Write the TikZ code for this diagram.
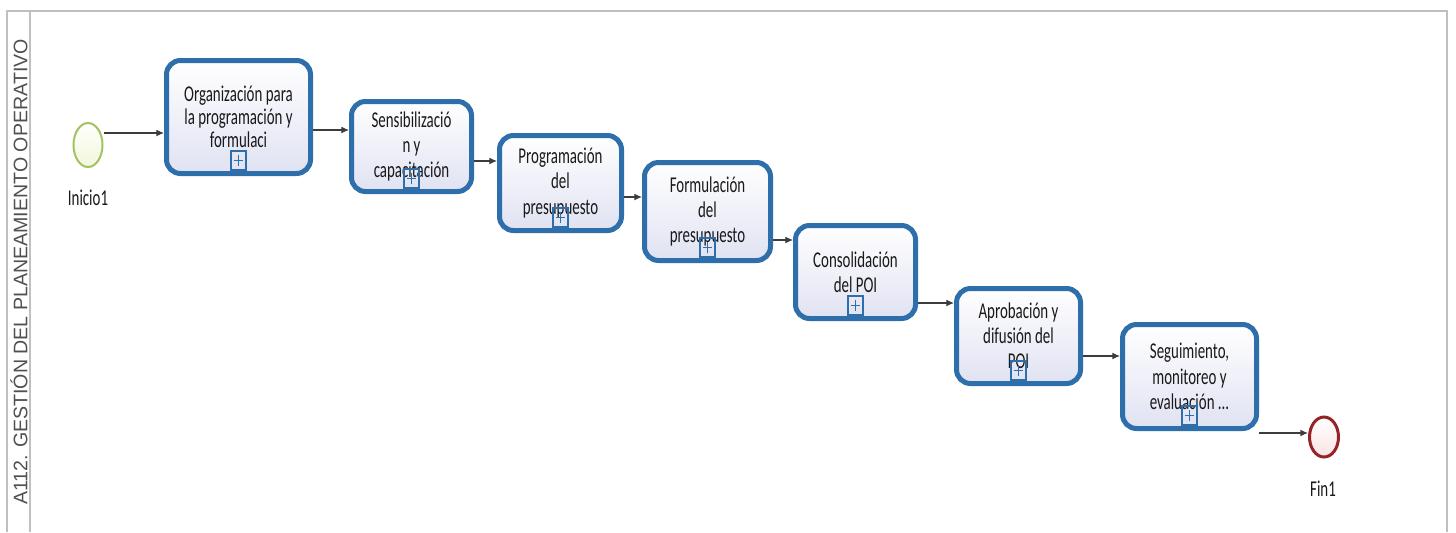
\documentclass[tikz,border=0pt]{standalone}
\usepackage{fontspec}
\setmainfont[FakeStretch=0.66]{Carlito}
\newfontfamily\lanefont{Liberation Sans}
\usetikzlibrary{arrows.meta,shapes.geometric}

\definecolor{taskblue}{RGB}{46,110,170}
\definecolor{tasklav}{RGB}{224,226,242}
\definecolor{framegray}{RGB}{192,192,192}
\definecolor{startfill}{RGB}{242,247,216}
\definecolor{startline}{RGB}{160,196,100}
\definecolor{endfill}{RGB}{250,228,228}
\definecolor{endline}{RGB}{150,35,40}
\definecolor{txt}{RGB}{25,25,25}
\definecolor{flowgray}{RGB}{60,60,60}
\definecolor{lanetxt}{RGB}{80,80,80}

\begin{document}
\begin{tikzpicture}[x=0.5pt,y=-0.5pt,
  task/.style={draw=taskblue, line width=2.5pt, rounded corners=7pt,
    top color=white, bottom color=tasklav, align=center, inner sep=0pt,
    font=\fontsize{11.3}{12.6}\selectfont, text=txt},
  plusmark/.style={draw=taskblue, line width=0.8pt, minimum width=7.5pt,
    minimum height=9.5pt, inner sep=0pt, anchor=south,
    path picture={
      \draw[taskblue, line width=0.9pt]
        ([yshift=-1.8pt]path picture bounding box.north) --
        ([yshift=1.8pt]path picture bounding box.south);
      \draw[taskblue, line width=0.9pt]
        ([xshift=1.3pt]path picture bounding box.west) --
        ([xshift=-1.3pt]path picture bounding box.east);}},
  flow/.style={draw=flowgray, line width=0.55pt,
    -{Latex[length=3.8pt,width=3.4pt]}},
  evlabel/.style={font=\fontsize{11.3}{12}\selectfont, text=txt},
  frameline/.style={draw=framegray, line width=1pt}]

\useasboundingbox (0,0) rectangle (1456,532);

% pool frame and lane header
\draw[frameline] (7,532) -- (7,11) -- (1447,11) -- (1447,532);
\draw[frameline] (30,11) -- (30,532);
\node[rotate=90, font=\lanefont\fontsize{9.8}{9.8}\selectfont, text=lanetxt]
  (lane) at (19,272) {A112. GESTIÓN DEL PLANEAMIENTO OPERATIVO};

% events
\node[ellipse, draw=startline, line width=1pt, top color=white, bottom color=startfill,
  minimum width=14.5pt, minimum height=22pt, inner sep=0pt] (start) at (88,145) {};
\node[evlabel] (startlbl) at (88,198) {Inicio1};
\node[ellipse, draw=endline, line width=1.5pt, top color=white, bottom color=endfill,
  minimum width=14.5pt, minimum height=20pt, inner sep=0pt] (end) at (1324,437) {};
\node[evlabel] (endlbl) at (1323,489) {Fin1};

% collapsed sub-processes
\node[task, font=\fontsize{11.3}{11.4}\selectfont, minimum width=72pt, minimum height=56.5pt]
  (b1) at (238.5,117) {Organización para\\la programación y\\formulaci};
\node[task, minimum width=60pt, minimum height=45pt] (b2) at (411.5,146.5)
  {Sensibilizació\\n y\\capacitación};
\node[task, minimum width=61pt, minimum height=47.5pt] (b3) at (560.5,183)
  {Programación\\del\\presupuesto};
\node[task, minimum width=63pt, minimum height=49pt] (b4) at (707.5,211.5)
  {Formulación\\del\\presupuesto};
\node[task, minimum width=60pt, minimum height=46.5pt] (b5) at (855.5,272)
  {Consolidación\\del POI};
\node[task, minimum width=62pt, minimum height=47.5pt] (b6) at (1018.5,336)
  {Aprobación y\\difusión del\\POI};
\node[task, minimum width=67pt, minimum height=52pt] (b7) at (1189.5,376.5)
  {Seguimiento,\\monitoreo y\\evaluación ...};

\foreach \i in {1,...,7}
  \node[plusmark] (m\i) at ([yshift=2.6pt]b\i.south) {};

% sequence flows
\draw[flow] (start.east |- 0,133) -- (b1.west |- 0,133);
\draw[flow] (b1.east |- 0,130) -- (b2.west |- 0,130);
\draw[flow] (b2.east |- 0,161) -- (b3.west |- 0,161);
\draw[flow] (b3.east |- 0,197) -- (b4.west |- 0,197);
\draw[flow] (b4.east |- 0,240) -- (b5.west |- 0,240);
\draw[flow] (b5.east |- 0,303) -- (b6.west |- 0,303);
\draw[flow] (b6.east |- 0,356) -- (b7.west |- 0,356);
\draw[flow] (b7.east |- 0,433) -- (end.west |- 0,433);

\end{tikzpicture}
\end{document}
